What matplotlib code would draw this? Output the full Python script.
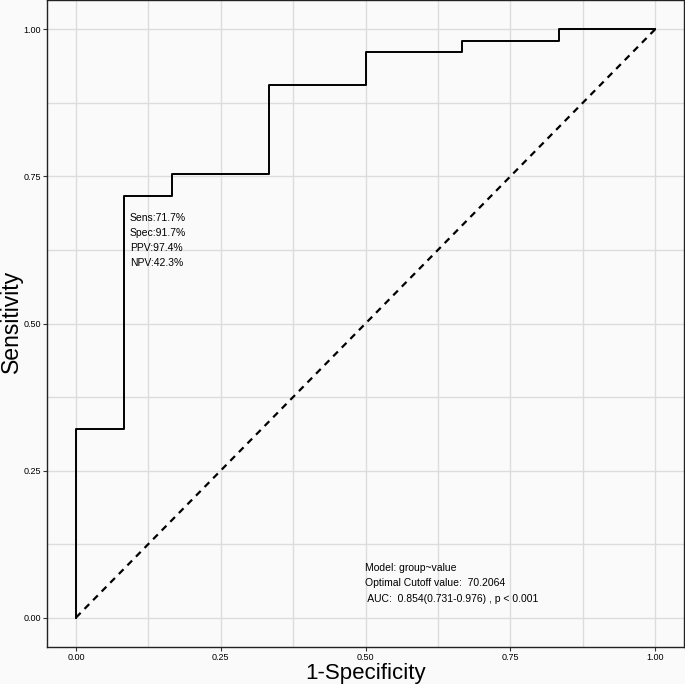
import numpy as np
import matplotlib.pyplot as plt

# ROC step points (1-specificity, sensitivity)
fpr = [0.0, 0.0, 0.0833, 0.0833, 0.1667, 0.1667, 0.3333, 0.3333, 0.5, 0.5, 0.6667, 0.6667, 0.8333, 0.8333, 1.0]
tpr = [0.0, 0.3208, 0.3208, 0.717, 0.717, 0.7547, 0.7547, 0.9057, 0.9057, 0.9623, 0.9623, 0.9811, 0.9811, 1.0, 1.0]

ticks = [0.0, 0.25, 0.5, 0.75, 1.0]
tick_labels = ['0.00', '0.25', '0.50', '0.75', '1.00']
metrics = ['Sens:71.7%', 'Spec:91.7%', 'PPV:97.4%', 'NPV:42.3%']
model_text = ['Model: group~value', 'Optimal Cutoff value:  70.2064',
              ' AUC:  0.854(0.731-0.976) , p < 0.001']

plt.rcParams['font.family'] = ['Liberation Sans', 'DejaVu Sans']

bg = '#fafafa'
fig = plt.figure(figsize=(6.85, 6.84), dpi=100, facecolor=bg)
ax = fig.add_axes([47 / 685, 37 / 684, (684 - 47) / 685, (647 - 0) / 684])
ax.set_facecolor(bg)

ax.set_xlim(-0.05, 1.05)
ax.set_ylim(-0.05, 1.05)

# grid (major + minor, ggplot style)
for v in np.arange(0, 1.01, 0.125):
    ax.axvline(v, color='#dcdcdc', lw=1.0, zorder=0)
    ax.axhline(v, color='#dcdcdc', lw=1.0, zorder=0)

ax.plot(fpr, tpr, color='black', lw=1.4, zorder=3)
ax.plot([0, 1], [0, 1], color='black', lw=1.6, ls=(0, (3, 2.5)), zorder=3)

for i, t in enumerate(metrics):
    ax.text(0.093, 0.679 - i * 0.0255, t, fontsize=7.5, va='center', ha='left')
for i, t in enumerate(model_text):
    ax.text(0.499, 0.085 - i * 0.0265, t, fontsize=7.5, va='center', ha='left')

ax.set_xticks(ticks)
ax.set_xticklabels(tick_labels)
ax.set_yticks(ticks)
ax.set_yticklabels(tick_labels)
ax.tick_params(labelsize=6.5, length=3, width=0.8, color='#333333', pad=1.5)

for s in ax.spines.values():
    s.set_color('#222222')
    s.set_linewidth(1.0)

ax.set_xlabel('1-Specificity', fontsize=16, va='center')
ax.set_ylabel('Sensitivity', fontsize=16.6, va='center')
ax.xaxis.set_label_coords(0.5, (647 - 673) / 647)
ax.yaxis.set_label_coords((11 - 47) / 637, 0.503)

fig.savefig('out.png', dpi=100, facecolor=bg)
